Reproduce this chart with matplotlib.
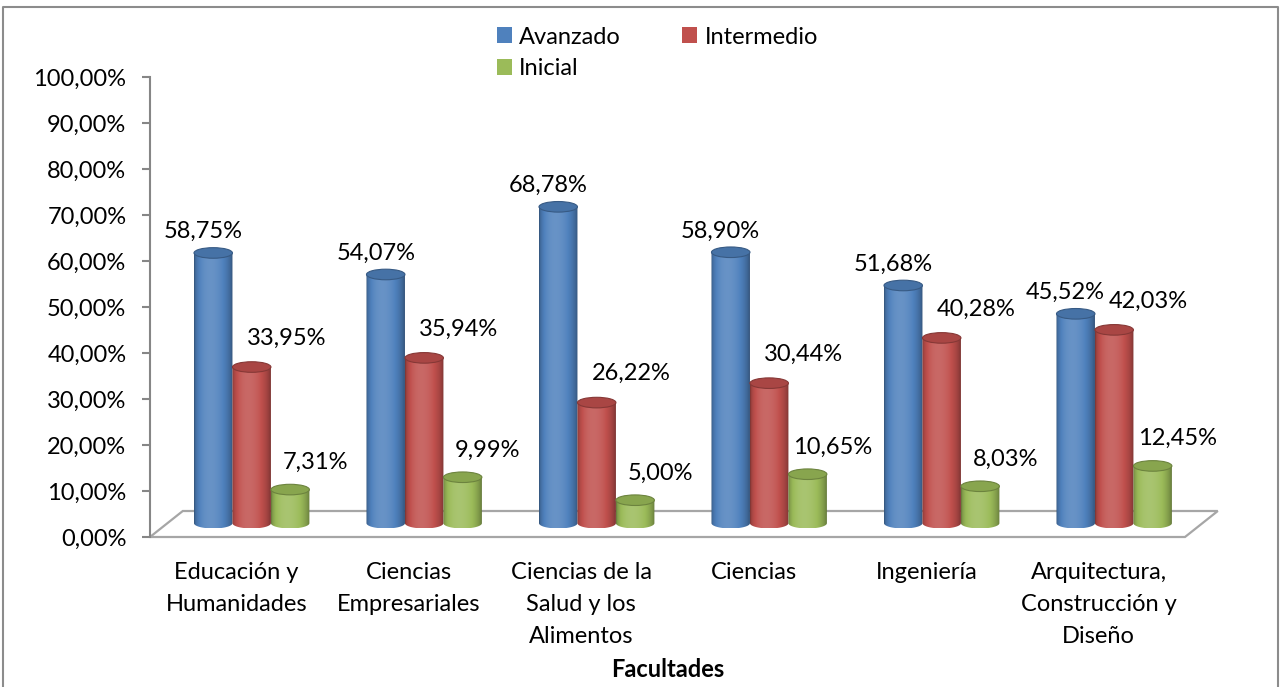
import numpy as np
import matplotlib
matplotlib.use("Agg")
import matplotlib.pyplot as plt
from matplotlib.patches import Polygon, Ellipse, Patch
from matplotlib.lines import Line2D
from matplotlib.colors import to_rgb

plt.rcParams['font.family'] = ['Lato', 'DejaVu Sans']

# datos
facultades = ["Educación y\nHumanidades", "Ciencias\nEmpresariales",
              "Ciencias de la\nSalud y los\nAlimentos", "Ciencias", "Ingeniería",
              "Arquitectura,\nConstrucción y\nDiseño"]
avanzado = [58.75, 54.07, 68.78, 58.90, 51.68, 45.52]
intermedio = [33.95, 35.94, 26.22, 30.44, 40.28, 42.03]
inicial = [7.31, 9.99, 5.00, 10.65, 8.03, 12.45]
series = ["Avanzado", "Intermedio", "Inicial"]
colores = ["#4F81BD", "#C0504D", "#9BBB59"]
y_ticks = [0, 10, 20, 30, 40, 50, 60, 70, 80, 90, 100]

FS = 17
W = 0.223          # ancho de cada cilindro
BASE = 3.0         # desplazamiento por profundidad
EH = 1.15          # semi-altura de la elipse
DEPTH_X, DEPTH_Y = 0.19, 5.65


def fmt(v):
    return f"{v:.2f}%".replace(".", ",")


def cilindro(ax, x0, w, base, h, color):
    rgb = np.array(to_rgb(color))
    t = np.linspace(0, 1, 80)
    shade = 0.62 + 0.52 * np.sin(np.pi * t ** 0.8) ** 0.6
    s = shade[:, None]
    cols = np.where(s <= 1, rgb * s, rgb + (1 - rgb) * (s - 1))
    img = np.clip(cols, 0, 1)[None, :, :]
    th = np.linspace(np.pi, 2 * np.pi, 50)
    xs = np.concatenate([[x0], x0 + w / 2 + w / 2 * np.cos(th), [x0 + w]])
    ys = np.concatenate([[base + h], base + EH * np.sin(th), [base + h]])
    body = Polygon(np.column_stack([xs, ys]), closed=True, facecolor='none', edgecolor='none')
    ax.add_patch(body)
    im = ax.imshow(img, extent=[x0, x0 + w, base - EH, base + h], aspect='auto',
                   interpolation='bilinear', zorder=3)
    im.set_clip_path(body)
    top = Ellipse((x0 + w / 2, base + h), w, 2 * EH, facecolor=rgb * 0.88,
                  edgecolor=rgb * 0.7, lw=0.8, zorder=4)
    ax.add_patch(top)


fig = plt.figure(figsize=(12.8, 6.87), dpi=100)
ax = fig.add_axes([150 / 1280, 150 / 687, 1035 / 1280, 460 / 687])

# piso
piso = Polygon([(0, 0), (6, 0), (6 + DEPTH_X, DEPTH_Y), (DEPTH_X, DEPTH_Y)], closed=True,
               facecolor='white', edgecolor='#A6A6A6', lw=1.6, zorder=1, clip_on=False)
ax.add_patch(piso)

valores = [avanzado, intermedio, inicial]
lab_dx = [-0.058, 0.2, 0.145]
lab_dy = [4.6, 6.3, 5.9]
for k, vals in enumerate(valores):
    for i, v in enumerate(vals):
        x0 = i + 0.255 + k * W
        cilindro(ax, x0, W, BASE, v, colores[k])
        ax.text(x0 + W / 2 + lab_dx[k], BASE + v + lab_dy[k], fmt(v), ha='center', va='center',
                fontsize=FS, zorder=5)

ax.set_xlim(0, 6)
ax.set_ylim(0, 100)
for s in ['top', 'right', 'bottom']:
    ax.spines[s].set_visible(False)
ax.spines['left'].set_color('#868686')
ax.spines['left'].set_linewidth(1.5)
ax.set_yticks(y_ticks)
ax.set_yticklabels([fmt(v) for v in y_ticks], fontsize=FS)
ax.tick_params(axis='y', length=6, width=1.5, color='#868686', pad=11)
ax.set_xticks([])

for i, lab in enumerate(facultades):
    ax.text(i + 0.5, -5.4, lab, ha='center', va='top', fontsize=FS, linespacing=1.64)
ax.text(3, -28.8, "Facultades", ha='center', va='center', fontsize=FS, fontweight='bold')

handles = [Patch(facecolor=colores[0]), Patch(facecolor=colores[2]), Patch(facecolor=colores[1])]
labels = [series[0], series[2], series[1]]
fig.legend(handles, labels, ncol=2, frameon=False, loc='upper left',
           bbox_to_anchor=(480 / 1280, 1 - 10 / 687), fontsize=FS,
           handlelength=0.65, handleheight=0.65, handletextpad=0.3,
           columnspacing=2.6, labelspacing=0.45, borderpad=0.2)

fig.add_artist(Line2D([3 / 1280, 3 / 1280, 1278 / 1280, 1278 / 1280],
                      [0, 1 - 7 / 687, 1 - 7 / 687, 0], transform=fig.transFigure,
                      color='#8C8C8C', lw=1.5))

fig.savefig("out.png", dpi=100)
